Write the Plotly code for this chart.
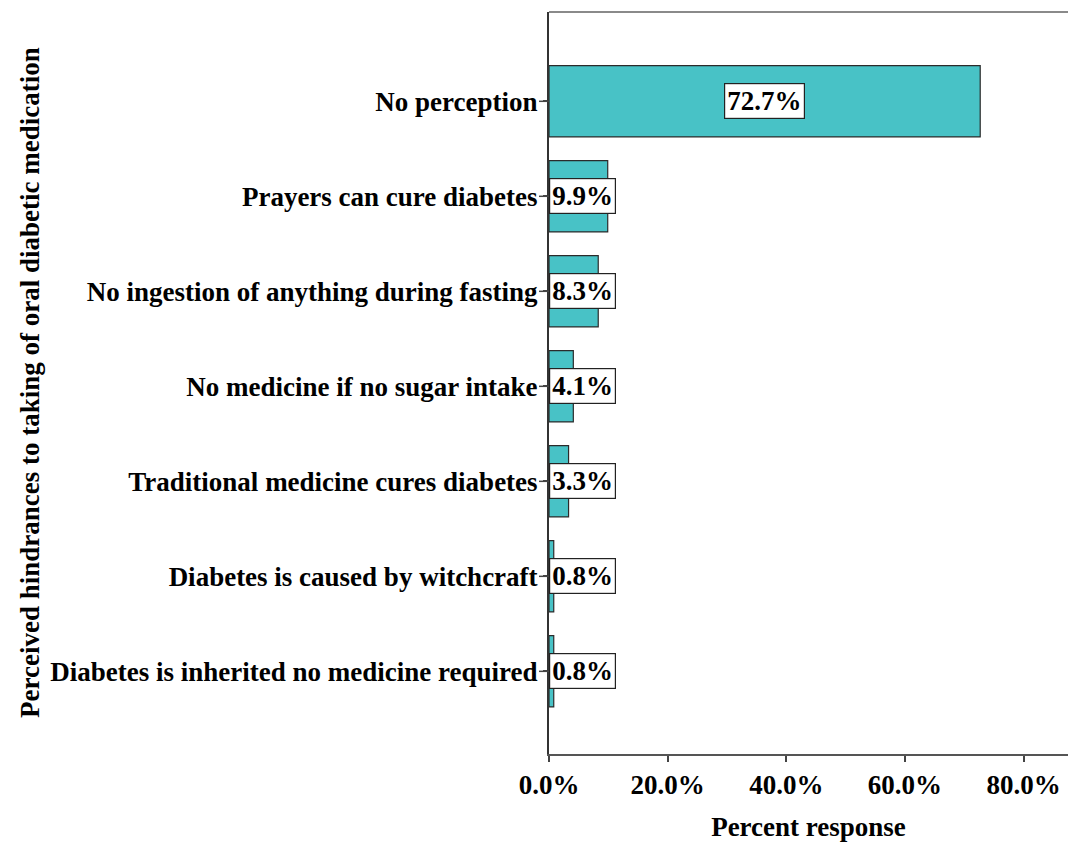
import plotly.graph_objects as go

categories = [
    "No perception",
    "Prayers can cure diabetes",
    "No ingestion of anything during fasting",
    "No medicine if no sugar intake",
    "Traditional medicine cures diabetes",
    "Diabetes is caused by witchcraft",
    "Diabetes is inherited no medicine required",
]
percents = [72.7, 9.9, 8.3, 4.1, 3.3, 0.8, 0.8]
tick_vals = [0, 20, 40, 60, 80]

FONT = "Liberation Serif"
FS = 27
PLOT_W = 519
fig = go.Figure()
fig.add_trace(go.Bar(
    y=categories, x=percents, orientation="h", width=0.75,
    marker=dict(color="#48C2C6", line=dict(color="#2b2b2b", width=1.2)),
    hoverinfo="skip",
))

for c, v in zip(categories, percents):
    big = v > 20
    fig.add_annotation(
        x=v / 2 if big else 0, y=c, xref="x", yref="y",
        xanchor="center" if big else "left",
        text=f"<b>{v:.1f}%</b>", showarrow=False,
        font=dict(family=FONT, size=FS, color="black"),
        bgcolor="white", bordercolor="#222", borderwidth=1.2, borderpad=2,
    )
    # longer category tick marks
    fig.add_shape(type="line", xref="paper", yref="y",
                  x0=-10 / PLOT_W, x1=0, y0=c, y1=c,
                  line=dict(color="#444", width=1.5))

fig.add_annotation(
    text="<b>Perceived hindrances to taking of oral diabetic medication</b>",
    xref="paper", yref="paper", x=(30 - 549) / PLOT_W, y=0.5,
    xanchor="center", yanchor="middle", textangle=-90, showarrow=False,
    font=dict(family=FONT, size=FS, color="black"),
)
fig.add_shape(type="line", xref="paper", yref="paper", x0=0, x1=1, y0=1, y1=1,
              line=dict(color="#8a8a8a", width=2))

fig.update_layout(
    width=1068, height=842,
    margin=dict(l=549, r=0, t=12, b=88),
    plot_bgcolor="white", paper_bgcolor="white",
    showlegend=False,
    font=dict(family=FONT, size=FS, color="black"),
)
fig.update_xaxes(
    range=[0, 87.5], tickvals=tick_vals,
    ticktext=[f"<b>{t:.1f}%</b>" for t in tick_vals],
    ticks="outside", ticklen=6, tickwidth=1.5, tickcolor="#444",
    showline=True, linecolor="#555", linewidth=2,
    showgrid=False, zeroline=False,
    title=dict(text="<b>Percent response</b>", standoff=18,
               font=dict(family=FONT, size=FS)),
    tickfont=dict(family=FONT, size=FS),
)
fig.update_yaxes(
    categoryorder="array", categoryarray=categories,
    range=[6.87, -0.94],
    tickvals=categories, ticktext=[f"<b>{c}</b>" for c in categories],
    ticks="outside", ticklen=4, tickwidth=1.5, tickcolor="#444",
    showline=True, linecolor="#333", linewidth=2,
    showgrid=False, zeroline=False,
    tickfont=dict(family=FONT, size=FS),
)

fig.write_html(
    "out.html",
    config={"displayModeBar": False},
    post_script="document.body.style.margin='0';document.body.style.overflow='hidden';",
)
